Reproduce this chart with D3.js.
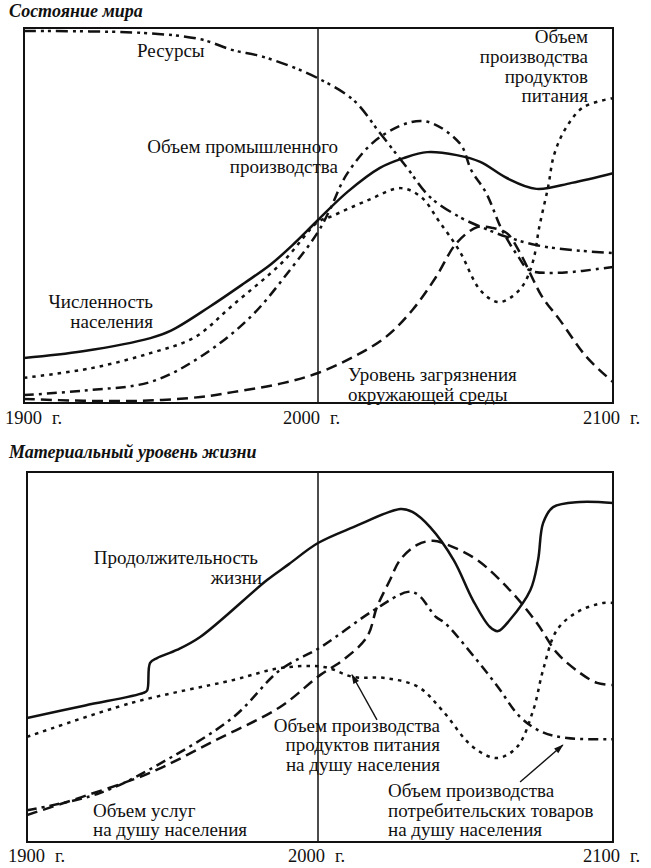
<!DOCTYPE html>
<html><head><meta charset="utf-8">
<script src="https://cdn.jsdelivr.net/npm/d3@7"></script>
<style>
html,body{margin:0;padding:0;background:#fff;}
svg{display:block;}
text{font-family:"Liberation Serif","Times New Roman",serif;fill:#111;}
</style></head><body>
<svg id="c" width="651" height="868"></svg>
<script>
// ---------- shared axis data ----------
const xTicks = [1900, 2000, 2100];
const xTickLabels = ["1900", "2000", "2100"];
const yearSuffix = "г.";

// ---------- Chart 1: "Состояние мира" ----------
const title1 = "Состояние мира";
const resourcesYears  = [1900,1940,1960,1971,1980,1990,2000,2012,2021,2030,2038,2048,2056,2064,2074,2086,2100];
const resourcesValues = [99.2,98.7,97.0,94.1,92.6,90.0,86.6,80.8,72.0,62.9,54.9,49.6,46.7,44.3,42.1,40.8,40.0];

const industryYears  = [1900,1920,1943,1960,1977,1990.5,2000,2004,2010,2021,2035.6,2048,2052,2057,2062.4,2068,2071.5,2081,2100];
const industryValues = [2.1,3.3,5.6,12.3,22.9,35.5,45.6,51.5,61.3,70.9,75.2,69.3,62.0,56.0,46.1,38.9,35.5,34.7,36.3];

const populationYears  = [1900,1920,1943,1950,1963,1975,1984,1992,2000,2010,2021,2029,2037,2047,2055,2064,2074,2086,2100];
const populationValues = [12.0,13.8,17.3,19.3,25.6,32.0,37.0,42.6,48.8,56.3,62.7,65.3,66.9,66.1,64.3,60.0,57.1,58.7,61.3];

const foodYears  = [1900,1923,1943,1958,1971,1988,2000,2004,2017,2028,2035,2041,2048,2055,2061,2066,2070,2073,2075,2078,2080,2084,2090,2100];
const foodValues = [6.7,9.3,13.3,17.5,26.1,37.6,48.3,49.6,54.1,57.3,54.9,48.5,40.5,30.1,26.9,28.5,32.0,38.1,46.9,57.6,66.1,73.3,78.9,81.3];

const pollutionYears  = [1900,1920,1940,1960,1971,1988,2000,2012,2023,2032,2040,2047,2054,2059,2064,2068.5,2073,2076,2082,2091,2100];
const pollutionValues = [1.1,0.6,0.6,1.6,2.9,5.3,8.0,12.3,17.6,24.8,33.6,42.7,46.9,46.7,45.3,40.0,32.8,28.3,22.1,12.3,5.6];

// ---------- Chart 2: "Материальный уровень жизни" ----------
const title2 = "Материальный уровень жизни";
const lifeYears  = [1900,1920,1940,1941.3,1942.3,1944.7,1951.5,1959.5,1982.5,1990,2000,2012,2028,2032,2038,2046,2052.5,2058.3,2061,2065,2072,2074.6,2076.3,2079.7,2088.8,2100];
const lifeValues = [33.5,36.9,40.3,41.0,48.4,49.7,51.9,55.4,70.8,75.1,80.8,85.1,90.0,89.2,85.1,76.2,65.4,58.1,57.0,60.0,68.1,76.2,86.2,90.5,91.9,91.6];

const foodPcYears  = [1900,1936,1971,1987,2002,2012,2023,2034,2042,2052.5,2060.7,2067.5,2073,2076.3,2081,2088,2096.6,2100];
const foodPcValues = [28.4,37.6,43.8,47.0,47.3,44.6,44.3,41.9,35.7,25.7,22.7,25.7,35.7,46.5,57.3,62.2,64.6,64.6];

const goodsPcYears  = [1900,1925,1948,1971,1987,2001,2019,2030.5,2034,2040,2043,2053,2061,2068.5,2076,2084.4,2100];
const goodsPcValues = [8.6,13.2,22.2,33.8,46.5,52.7,62.7,67.6,66.8,60.8,59.2,50.0,41.9,33.8,29.7,28.1,27.8];

const servicesPcYears  = [1900,1919,1942,1965,1987,2000.7,2008.5,2016.6,2020,2024.4,2027.8,2033.6,2039,2045.8,2054,2065,2074.2,2081,2088.8,2094.6,2100];
const servicesPcValues = [7.3,12.2,18.6,27.6,36.5,45.1,49.2,55.4,63.5,70.8,76.2,80.3,81.4,79.7,76.2,68.1,59.2,51.1,45.7,43.0,42.4];

// ---------- drawing ----------
const svg = d3.select("#c");
const SOLID = null, DOTTED = "3.5,5", DASHED = "11,6", DASHDOT = "10,5,3,5", DASHDOTDOT = "12,5,3,4,3,5";
const LABEL_SIZE = 19;

svg.append("defs").append("marker")
  .attr("id","arr").attr("viewBox","0 0 12 10").attr("refX",11).attr("refY",5)
  .attr("markerWidth",12).attr("markerHeight",8).attr("orient","auto-start-reverse")
  .attr("markerUnits","userSpaceOnUse")
  .append("path").attr("d","M0,1 L12,5 L0,9 Z").attr("fill","#111");

function chart(cfg) {
  const x = d3.scaleLinear().domain(xTicks).range(cfg.xr);
  const y = d3.scaleLinear().domain([0,100]).range(cfg.yr);
  const g = svg.append("g");
  const id = "clip" + cfg.key;
  svg.select("defs").append("clipPath").attr("id", id)
    .append("rect").attr("x", cfg.xr[0]).attr("y", cfg.yr[1]-2)
    .attr("width", cfg.xr[2]-cfg.xr[0]).attr("height", cfg.yr[0]-cfg.yr[1]+2);
  // title
  g.append("text").attr("x", 9).attr("y", cfg.titleY)
    .attr("font-size", 18).attr("font-weight","bold").attr("font-style","italic").text(cfg.title);
  // 2000 line
  g.append("line").attr("x1", x(2000)).attr("x2", x(2000))
    .attr("y1", y(100)).attr("y2", y(0)).attr("stroke","#111").attr("stroke-width",1.5);
  // series
  const line = d3.line().x(d => x(d[0])).y(d => y(d[1])).curve(d3.curveCatmullRom.alpha(0.5));
  const lg = g.append("g").attr("clip-path", `url(#${id})`);
  cfg.series.forEach(s => {
    const pts = s.years.map((yr,i) => [yr, s.values[i]]);
    lg.append("path").attr("d", line(pts)).attr("fill","none")
      .attr("stroke","#111").attr("stroke-width", 2.5)
      .attr("stroke-dasharray", s.dash).attr("stroke-linecap","butt").attr("stroke-linejoin","round");
  });
  // frame
  g.append("rect").attr("x", cfg.xr[0]).attr("y", cfg.yr[1])
    .attr("width", cfg.xr[2]-cfg.xr[0]).attr("height", cfg.yr[0]-cfg.yr[1])
    .attr("fill","none").attr("stroke","#111").attr("stroke-width",2);
  // x labels
  xTicks.forEach((t,i) => {
    const tx = g.append("text").attr("x", cfg.tickX[i]).attr("y", cfg.tickY).attr("font-size", 18.5);
    tx.append("tspan").text(xTickLabels[i]);
    tx.append("tspan").attr("dx", 10).text(yearSuffix);
  });
  // labels
  cfg.labels.forEach(L => {
    g.append("text").attr("x", L[0]).attr("y", L[1]).attr("font-size", LABEL_SIZE)
      .attr("text-anchor", L[3] || "start").text(L[2]);
  });
  // arrows
  (cfg.arrows||[]).forEach(a => {
    g.append("line").attr("x1", x(a[0])).attr("y1", y(a[1])).attr("x2", x(a[2])).attr("y2", y(a[3]))
      .attr("stroke","#111").attr("stroke-width",1.4).attr("marker-end","url(#arr)");
  });
}

chart({
  key: 1, title: title1, titleY: 17,
  xr: [24, 318, 613], yr: [403, 28],
  tickX: [5, 283, 583], tickY: 424,
  series: [
    {years: resourcesYears, values: resourcesValues, dash: DASHDOTDOT},
    {years: industryYears, values: industryValues, dash: DASHDOT},
    {years: populationYears, values: populationValues, dash: SOLID},
    {years: foodYears, values: foodValues, dash: DOTTED},
    {years: pollutionYears, values: pollutionValues, dash: DASHED}
  ],
  labels: [
    [137, 57, "Ресурсы"],
    [338, 153, "Объем промышленного", "end"],
    [338, 173, "производства", "end"],
    [153, 308, "Численность", "end"],
    [153, 328, "населения", "end"],
    [588, 43, "Объем", "end"],
    [588, 63, "производства", "end"],
    [588, 83, "продуктов", "end"],
    [588, 102, "питания", "end"],
    [348, 381, "Уровень загрязнения"],
    [348, 401, "окружающей среды"]
  ]
});

chart({
  key: 2, title: title2, titleY: 458,
  xr: [27, 318, 613], yr: [842, 472],
  tickX: [8, 288, 583], tickY: 862,
  series: [
    {years: lifeYears, values: lifeValues, dash: SOLID},
    {years: servicesPcYears, values: servicesPcValues, dash: DASHED},
    {years: goodsPcYears, values: goodsPcValues, dash: DASHDOT},
    {years: foodPcYears, values: foodPcValues, dash: DOTTED}
  ],
  labels: [
    [258, 564, "Продолжительность", "end"],
    [262, 584, "жизни", "end"],
    [440, 732, "Объем производства", "end"],
    [440, 751, "продуктов питания", "end"],
    [440, 771, "на душу населения", "end"],
    [93, 817, "Объем услуг"],
    [93, 836, "на душу населения"],
    [388, 797, "Объем производства"],
    [388, 817, "потребительских товаров"],
    [388, 836, "на душу населения"]
  ],
  arrows: [
    [2020, 33, 2011.5, 45.2],
    [2068.5, 16.2, 2083, 26.2]
  ]
});
</script>
</body></html>
